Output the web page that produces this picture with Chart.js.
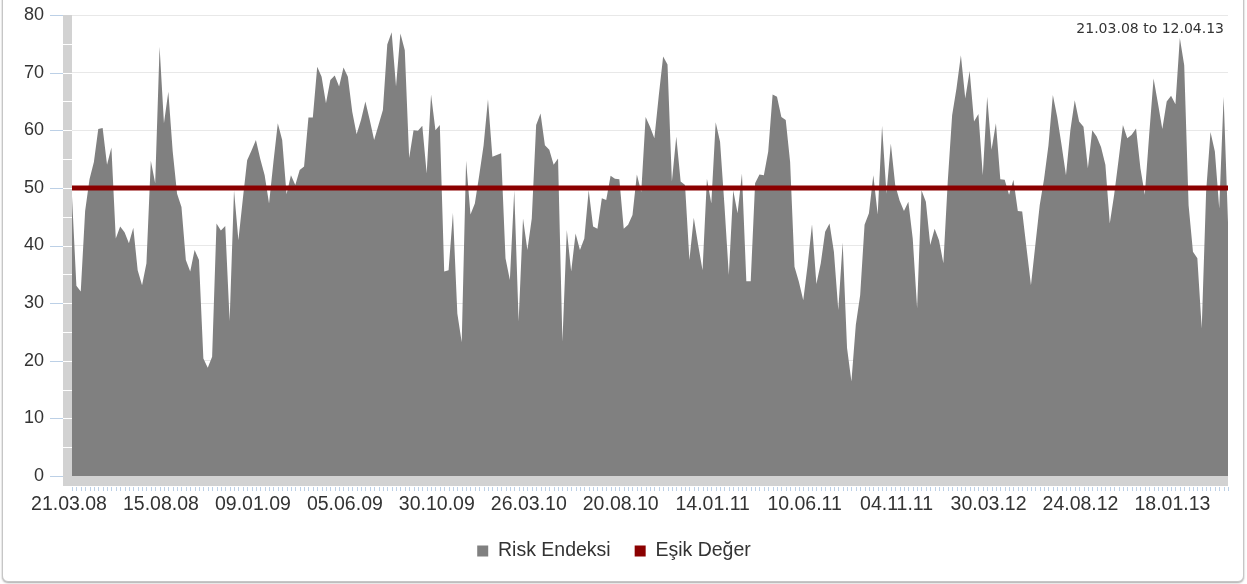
<!DOCTYPE html>
<html><head><meta charset="utf-8">
<script src="https://cdn.jsdelivr.net/npm/chart.js@4.4.1/dist/chart.umd.min.js"></script>
<style>
html,body{margin:0;padding:0;background:#fff;width:1247px;height:584px;overflow:hidden;}
#card{position:absolute;left:2px;top:-8px;width:1240px;height:588px;border:1px solid #c6c6c6;border-radius:6px;box-shadow:0 1px 2px rgba(0,0,0,0.35);background:#fff;}
#wrap{position:absolute;left:0;top:0;width:1247px;height:584px;}
</style></head><body>
<div id="card"></div>
<div id="wrap"><canvas id="c" width="1247" height="584"></canvas></div>
<script>
// Weekly risk index values, 21.03.08 .. 12.04.13
const riskValues = [
48.5,33,32,46,51.5,54.5,60.2,60.4,54,57,41.2,43.3,42.3,40.4,43.1,35.7,33.1,36.9,54.7,50.8,
74.5,61.2,66.7,56.3,49,46.7,37.5,35.5,39.2,37.5,20.4,18.8,20.7,43.8,42.6,43.4,26.9,49.6,40.9,48,
54.8,56.5,58.3,55,52.2,47.3,54.5,61.2,58.3,48.9,52.2,50.5,53.1,53.7,62.2,62.2,71,69.3,64.7,68.7,
69.5,67.6,70.9,69.3,63.2,59.3,61.8,65,61.8,58.3,60.9,63.5,74.9,77,67.6,76.8,73.9,55.2,60,59.9,
60.8,52.5,66.2,60,60.9,35.5,35.7,45.7,28.2,23.2,54.7,45.4,47.3,52.2,57.4,65.4,55.4,55.7,56,37.8,
34,49.6,26.8,44.7,39.2,44.7,60.9,62.9,57.4,56.6,54,55.1,23.3,42.7,35.5,42.1,39.2,41.2,49.6,43.3,
42.9,48.2,47.9,52.1,51.6,51.5,42.9,43.6,45.3,52.3,49.3,62.3,60.6,58.6,66,72.8,71.4,51.1,58.9,51.1,
50.5,37.5,44.8,40.1,35.7,51.6,47.3,61.4,58,47,34.9,49.6,45.6,52.5,33.8,33.8,50.8,52.3,52.2,56.3,
66.2,65.8,62.3,61.8,54.5,36.3,33.7,30.5,36.6,43.7,33.3,36.9,42.4,43.8,38.9,28.8,40.5,22.2,16.4,26.2,
31.4,43.6,45.6,52.2,45.4,60.8,49,57.7,50.5,47.8,46,47.6,41.2,29.1,49.6,47.6,40.1,42.9,40.9,36.9,
51.1,62.6,67.3,73,65.5,70.3,61.5,62.8,52.2,65.8,56.6,61.2,51.5,51.4,48.8,51.4,46,45.9,39.5,33.1,
40.1,47,51.6,57.4,66.1,62.3,57.4,52.2,60,65.2,61.5,60.6,53.4,60,58.9,57.1,54,43.8,48.8,54.8,
60.9,58.6,59.2,60.3,53.4,48.8,59.2,69,64.7,60.2,65,66,64.5,76,71.3,47,38.9,37.8,25.6,49.3,
59.7,56.3,46.4,65.8,44
];
const thresholdValue = 50;
const tickLabels = ['21.03.08','15.08.08','09.01.09','05.06.09','30.10.09','26.03.10','20.08.10','14.01.11','10.06.11','04.11.11','30.03.12','24.08.12','18.01.13'];
const seriesNames = ['Risk Endeksi','Eşik Değer'];
const rangeText = '21.03.08 to 12.04.13';

// weekly categories
const categories = [];
{
  const d0 = Date.UTC(2008, 2, 21);
  for (let i = 0; i < riskValues.length; i++) {
    const d = new Date(d0 + i * 7 * 86400000);
    const p = n => String(n).padStart(2, '0');
    categories.push(p(d.getUTCDate()) + '.' + p(d.getUTCMonth() + 1) + '.' + p(d.getUTCFullYear() % 100));
  }
}
const thresholdSeries = categories.map(() => thresholdValue);

const FAMILY = "'Liberation Sans', Arial, sans-serif";
const X_FONT = {family: FAMILY, size: 19.5};
const Y_FONT = {family: FAMILY, size: 18};
const TEXT_COLOR = '#333333';

const decor = {
  id: 'decor',
  afterDraw(chart) {
    const {ctx, chartArea: a, scales: {x, y}} = chart;
    ctx.save();
    ctx.fillStyle = '#d2d2d2';
    ctx.fillRect(a.left - 9, a.top, 9, a.bottom - a.top + 10);
    ctx.fillRect(a.left - 9, a.bottom, a.right - a.left + 9, 10);
    ctx.strokeStyle = '#ffffff';
    ctx.lineWidth = 1;
    for (let v = 5; v < 80; v += 5) {
      const py = Math.round(y.getPixelForValue(v)) + 0.5;
      ctx.beginPath(); ctx.moveTo(a.left - 9, py); ctx.lineTo(a.left, py); ctx.stroke();
    }
    ctx.strokeStyle = '#bcd0e6';
    for (let v = 0; v <= 80; v += 10) {
      const py = Math.round(y.getPixelForValue(v)) + 0.5;
      ctx.beginPath(); ctx.moveTo(a.left - 22, py); ctx.lineTo(a.left - 9, py); ctx.stroke();
    }
    for (let i = 0; i < categories.length; i++) {
      const px = Math.round(x.getPixelForValue(i)) + 0.5;
      ctx.beginPath(); ctx.moveTo(px, a.bottom + 11); ctx.lineTo(px, a.bottom + 15); ctx.stroke();
    }
    ctx.fillStyle = TEXT_COLOR;
    ctx.font = "14px 'DejaVu Sans', Verdana, sans-serif";
    ctx.textAlign = 'right';
    ctx.textBaseline = 'middle';
    ctx.fillText(rangeText, a.right - 4, 29);
    ctx.restore();
  }
};

new Chart(document.getElementById('c'), {
  type: 'line',
  data: {
    labels: categories,
    datasets: [
      {label: seriesNames[0], data: riskValues, fill: 'origin', backgroundColor: '#808080', borderColor: '#808080', borderWidth: 0, pointRadius: 0, tension: 0, order: 2},
      {label: seriesNames[1], data: thresholdSeries, fill: false, backgroundColor: '#8b0000', borderColor: '#8b0000', borderWidth: 5, borderCapStyle: 'butt', pointRadius: 0, tension: 0, order: 1}
    ]
  },
  options: {
    responsive: false,
    animation: false,
    devicePixelRatio: 1,
    layout: {padding: {left: 0, right: 19, top: 15, bottom: 13.25}},
    plugins: {
      tooltip: {enabled: false},
      legend: {
        position: 'bottom',
        labels: {
          boxWidth: 11, boxHeight: 11, padding: 24, color: TEXT_COLOR, font: X_FONT,
          generateLabels(chart) {
            return chart.data.datasets.map((ds, i) => ({text: ds.label, fillStyle: ds.backgroundColor, strokeStyle: ds.backgroundColor, lineWidth: 0, datasetIndex: i, hidden: false, fontColor: TEXT_COLOR}));
          }
        }
      }
    },
    scales: {
      x: {
        type: 'category',
        offset: false,
        grid: {display: false, drawTicks: false},
        border: {display: false},
        ticks: {
          autoSkip: false, maxRotation: 0, minRotation: 0, padding: 17, labelOffset: -3, color: TEXT_COLOR, font: X_FONT,
          callback(v, i) { const l = categories[i]; return tickLabels.includes(l) ? l : ''; }
        },
        afterFit(s) { s.height = 41.25; }
      },
      y: {
        min: 0, max: 80,
        grid: {color: '#e8e8e8', drawTicks: true, tickLength: 28, tickColor: 'rgba(0,0,0,0)'},
        border: {display: false},
        ticks: {stepSize: 10, padding: 0, color: TEXT_COLOR, font: Y_FONT},
        afterFit(s) { s.width = 72; }
      }
    }
  },
  plugins: [decor]
});
</script>
</body></html>
